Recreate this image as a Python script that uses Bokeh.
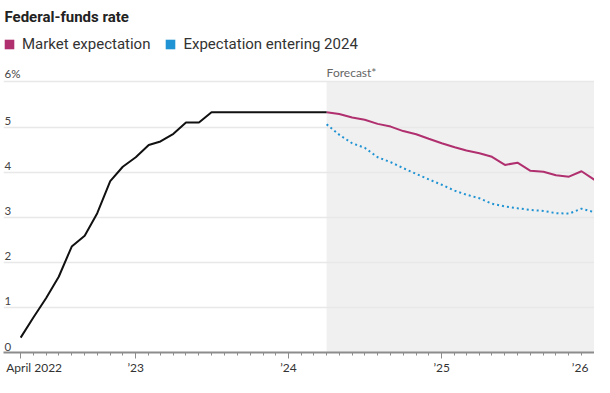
import pandas as pd
from bokeh.plotting import figure
from bokeh.models import (ColumnDataSource, FixedTicker, BoxAnnotation, Legend,
                          LegendItem, Range1d)
from bokeh.core.properties import value
from bokeh.embed import file_html
from bokeh.resources import INLINE

# ---------------- data ----------------
title_text = "Federal-funds rate"
series_names = ["Market expectation", "Expectation entering 2024"]
forecast_label = "Forecast*"

hist_start = "2022-04-01"
hist_rate = [0.33, 0.77, 1.21, 1.68, 2.35, 2.59, 3.09, 3.80, 4.12, 4.33, 4.60,
             4.68, 4.85, 5.10, 5.10, 5.33, 5.33, 5.33, 5.33, 5.33, 5.33, 5.33,
             5.33, 5.33, 5.33]

forecast_start = "2024-04-01"
market_expectation = [5.33, 5.29, 5.21, 5.16, 5.07, 5.01, 4.91, 4.84, 4.74, 4.64,
                      4.55, 4.48, 4.42, 4.34, 4.16, 4.21, 4.03, 4.01, 3.93, 3.90,
                      4.02, 3.83]
expectation_entering_2024 = [5.06, 4.83, 4.64, 4.54, 4.33, 4.22, 4.09, 3.96, 3.84,
                             3.72, 3.59, 3.50, 3.42, 3.30, 3.24, 3.20, 3.16, 3.14,
                             3.09, 3.08, 3.19, 3.11]

x_tick_dates = ["2022-04-01", "2023-01-01", "2024-01-01", "2025-01-01", "2026-01-01"]
x_tick_labels = ["April 2022", "\u201923", "\u201924", "\u201925", "\u201926"]
y_ticks = [0, 1, 2, 3, 4, 5, 6]
y_tick_labels = ["0", "1", "2", "3", "4", "5", "6%"]

# ---------------- styles ----------------
MAGENTA = "#b02f6e"
BLUE = "#1f93d3"
BLACK = "#111111"
SHADE = "#f0f0f0"
GRID = "#e8e8e8"
AXIS = "#8c8c8c"
TEXT = "#333333"
NARROW = "Lato"
SANS = "Roboto"
NBSP = "\u00a0"

hist_dates = pd.date_range(hist_start, periods=len(hist_rate), freq="MS")
fc_dates = pd.date_range(forecast_start, periods=len(market_expectation), freq="MS")

x_start = hist_dates[0] - pd.Timedelta(days=41)
x_end = fc_dates[-1]

p = figure(width=594, height=377, x_axis_type="datetime",
           output_backend="svg", toolbar_location=None,
           x_range=Range1d(x_start, x_end), y_range=Range1d(0, 7.03),
           min_border_left=3, min_border_right=0, min_border_bottom=18,
           min_border_top=35)
p.outline_line_color = None
p.background_fill_color = "white"

# title
p.title.text = title_text
p.title.text_font = SANS
p.title.text_font_style = "bold"
p.title.text_font_size = "15px"
p.title.text_color = "#222222"
p.title.vertical_align = "top"
p.title.standoff = 15
p.title.offset = 1

# forecast shading
shade = BoxAnnotation(left=fc_dates[0], bottom=0, top=6, fill_color=SHADE,
                      fill_alpha=1.0, line_alpha=0, level="underlay")
p.center = [shade] + list(p.center)

# grid
p.xgrid.visible = False
p.ygrid.ticker = FixedTicker(ticks=y_ticks[1:])
p.ygrid.grid_line_color = GRID
p.ygrid.grid_line_width = 1.5

# lines
src_h = ColumnDataSource(dict(x=hist_dates, y=hist_rate))
src_f = ColumnDataSource(dict(x=fc_dates, m=market_expectation,
                              e=expectation_entering_2024))
p.line("x", "e", source=src_f, line_color=BLUE, line_width=2, line_dash="2 3")
p.line("x", "m", source=src_f, line_color=MAGENTA, line_width=2)
p.line("x", "y", source=src_h, line_color=BLACK, line_width=2)

# y labels above gridlines
ysrc = ColumnDataSource(dict(x=pd.DatetimeIndex([x_start] * len(y_ticks)),
                             y=y_ticks, t=y_tick_labels))
p.text("x", "y", text="t", source=ysrc, x_offset=1, y_offset=-2,
       text_baseline="bottom", text_align="left", text_font=value(NARROW),
       text_font_size="11.5px", text_color="#444444")

# forecast label
fsrc = ColumnDataSource(dict(x=fc_dates[:1], y=[6], t=[forecast_label]))
p.text("x", "y", text="t", source=fsrc, x_offset=0, y_offset=-2,
       text_baseline="bottom", text_align="left", text_font=value(NARROW),
       text_font_size="12px", text_color="#666666")

# axes
p.yaxis.visible = False
tick_ms = [float(pd.Timestamp(d).value // 10**6) for d in x_tick_dates]
minor_ms = [float(d.value // 10**6) for d in pd.date_range(x_tick_dates[0], x_tick_dates[-1], freq="MS")]
xa = p.xaxis[0]
xa.ticker = FixedTicker(ticks=tick_ms, minor_ticks=minor_ms)
labels_shown = list(x_tick_labels)
labels_shown[0] = NBSP * 2 + labels_shown[0]
labels_shown[-1] = labels_shown[-1] + NBSP * 2
xa.major_label_overrides = {t: l for t, l in zip(tick_ms, labels_shown)}
xa.axis_line_color = AXIS
xa.axis_line_width = 2
xa.major_tick_line_color = AXIS
xa.minor_tick_line_color = AXIS
xa.major_tick_in = 0
xa.major_tick_out = 6
xa.minor_tick_in = 0
xa.minor_tick_out = 3
xa.major_label_text_font = NARROW
xa.major_label_text_font_size = "12px"
xa.major_label_text_color = TEXT
xa.major_label_standoff = 1

# legend with squares (zero-area proxies at the first forecast point)
r_m = p.quad(left=fc_dates[:1], right=fc_dates[:1], top=market_expectation[:1],
             bottom=market_expectation[:1], fill_color=MAGENTA, line_alpha=0)
r_e = p.quad(left=fc_dates[:1], right=fc_dates[:1], top=expectation_entering_2024[:1],
             bottom=expectation_entering_2024[:1], fill_color=BLUE, line_alpha=0)
legend = Legend(items=[LegendItem(label=series_names[0], renderers=[r_m]),
                       LegendItem(label=series_names[1], renderers=[r_e])],
                orientation="horizontal", location="top_left",
                glyph_width=12, glyph_height=12, label_standoff=7, spacing=14,
                padding=0, margin=0, border_line_alpha=0, background_fill_alpha=0,
                label_text_font=SANS, label_text_font_size="15px",
                label_text_color=TEXT)
p.add_layout(legend)

open("out.html", "w").write(file_html(p, INLINE))
